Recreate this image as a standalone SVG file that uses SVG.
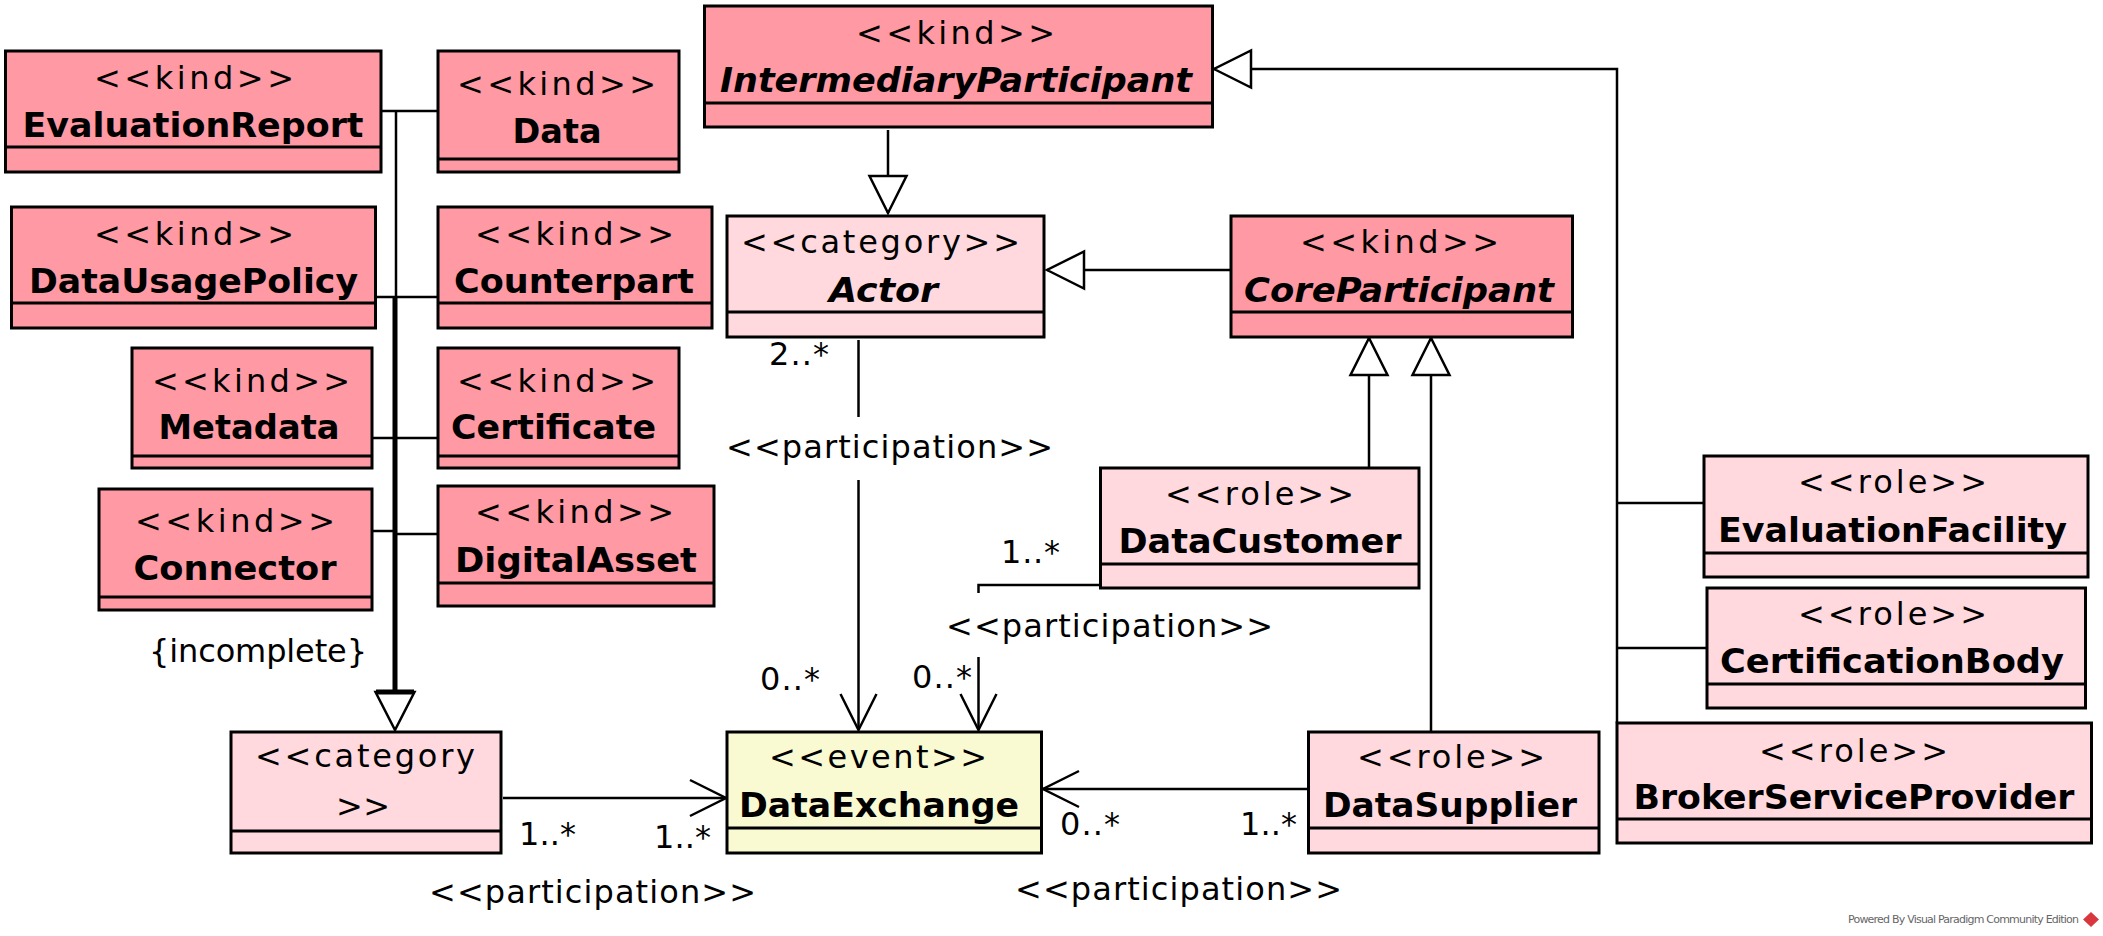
<svg xmlns="http://www.w3.org/2000/svg" width="2103" height="936" viewBox="0 0 2103 936">
<style>
.box{stroke:#000;stroke-width:3}
.kind{fill:#FF99A3}
.role{fill:#FFD9DE}
.event{fill:#FAFAD2}
.dv{stroke:#000;stroke-width:3}
text{font-family:"DejaVu Sans","Liberation Sans",sans-serif;fill:#000}
.st{font-size:32px;text-anchor:middle}
.nm{font-size:34px;font-weight:bold;text-anchor:middle}
.it{font-style:italic}
.lb{font-size:32px}
.c{stroke:#000;stroke-width:2.5;fill:none}
.thick{stroke:#000;stroke-width:5;fill:none}
.tri{fill:#fff;stroke:#000;stroke-width:2.5}
.pw{font-size:11px;fill:#666}
</style>
<defs>
<marker id="open" markerUnits="userSpaceOnUse" viewBox="-40 -22 44 44" markerWidth="44" markerHeight="44" refX="0" refY="0" orient="auto" overflow="visible">
<path d="M-36,-18 L0,0 L-36,18" fill="none" stroke="#000" stroke-width="2.5"/>
</marker>
<marker id="gen" markerUnits="userSpaceOnUse" viewBox="-40 -22 44 44" markerWidth="44" markerHeight="44" refX="0" refY="0" orient="auto" overflow="visible">
<path d="M0,0 L-37,-18.5 L-37,18.5 Z" class="tri"/>
</marker>
</defs>
<rect width="2103" height="936" fill="#fff"/>

<g id="connectors">
<!-- generalization set {incomplete} -->
<line class="c" x1="381" y1="111" x2="438" y2="111"/>
<line class="c" x1="376" y1="297" x2="438" y2="297"/>
<line class="c" x1="372" y1="438" x2="438" y2="438"/>
<line class="c" x1="372" y1="531" x2="396" y2="531"/>
<line class="c" x1="395" y1="534" x2="438" y2="534"/>
<line class="c" x1="396" y1="111" x2="396" y2="297"/>
<line class="thick" x1="395" y1="297" x2="395" y2="692"/>
<path class="tri" d="M375.5,692 L414.5,692 L395,730 Z"/>
<line class="thick" x1="376" y1="692" x2="414" y2="692"/>
<text class="lb" x="149" y="662" textLength="218">{incomplete}</text>

<!-- IntermediaryParticipant -> Actor -->
<line class="c" x1="888" y1="130" x2="888" y2="213" marker-end="url(#gen)"/>
<!-- CoreParticipant -> Actor -->
<line class="c" x1="1231" y1="270" x2="1047" y2="270" marker-end="url(#gen)"/>
<!-- DataCustomer -> CoreParticipant -->
<line class="c" x1="1369" y1="468" x2="1369" y2="338" marker-end="url(#gen)"/>
<!-- DataSupplier -> CoreParticipant -->
<line class="c" x1="1431" y1="732" x2="1431" y2="338" marker-end="url(#gen)"/>
<!-- roles -> IntermediaryParticipant -->
<path class="c" d="M1617,723 L1617,69 L1214,69" marker-end="url(#gen)"/>
<line class="c" x1="1617" y1="503" x2="1704" y2="503"/>
<line class="c" x1="1617" y1="648" x2="1707" y2="648"/>

<!-- Actor -> DataExchange participation -->
<line class="c" x1="858.5" y1="340" x2="858.5" y2="417"/>
<line class="c" x1="858.5" y1="480" x2="858.5" y2="730" marker-end="url(#open)"/>
<text class="lb" x="769" y="365" textLength="60">2..*</text>
<text class="lb" x="726" y="458" textLength="327">&lt;&lt;participation&gt;&gt;</text>
<text class="lb" x="760" y="690" textLength="60">0..*</text>

<!-- DataCustomer -> DataExchange participation -->
<polyline class="c" points="1100,585 978.5,585 978.5,593"/>
<line class="c" x1="978.5" y1="657" x2="978.5" y2="730" marker-end="url(#open)"/>
<text class="lb" x="1001" y="563" textLength="59">1..*</text>
<text class="lb" x="946" y="637" textLength="327">&lt;&lt;participation&gt;&gt;</text>
<text class="lb" x="912" y="688" textLength="60">0..*</text>

<!-- DataSupplier -> DataExchange participation -->
<line class="c" x1="1307" y1="789" x2="1043" y2="789" marker-end="url(#open)"/>
<text class="lb" x="1060" y="835" textLength="60">0..*</text>
<text class="lb" x="1240" y="835" textLength="57">1..*</text>
<text class="lb" x="1015" y="900" textLength="327">&lt;&lt;participation&gt;&gt;</text>

<!-- category -> DataExchange participation -->
<line class="c" x1="503" y1="798" x2="726" y2="798" marker-end="url(#open)"/>
<text class="lb" x="519" y="845" textLength="57">1..*</text>
<text class="lb" x="654" y="848" textLength="57">1..*</text>
<text class="lb" x="429" y="903" textLength="327">&lt;&lt;participation&gt;&gt;</text>
</g>

<g id="EvaluationReport">
<rect class="box kind" x="5.5" y="51" width="375.5" height="121"/>
<line class="dv" x1="5.5" y1="147" x2="381" y2="147"/>
<text class="st" x="194" y="89" textLength="200">&lt;&lt;kind&gt;&gt;</text>
<text class="nm" x="193" y="137" textLength="341" lengthAdjust="spacingAndGlyphs">EvaluationReport</text>
</g>
<g id="Data">
<rect class="box kind" x="438" y="51" width="241" height="121"/>
<line class="dv" x1="438" y1="159" x2="679" y2="159"/>
<text class="st" x="556.5" y="95" textLength="199">&lt;&lt;kind&gt;&gt;</text>
<text class="nm" x="557" y="143" textLength="89" lengthAdjust="spacingAndGlyphs">Data</text>
</g>
<g id="DataUsagePolicy">
<rect class="box kind" x="11.5" y="207" width="364" height="121"/>
<line class="dv" x1="11.5" y1="303" x2="375.5" y2="303"/>
<text class="st" x="194" y="245" textLength="200">&lt;&lt;kind&gt;&gt;</text>
<text class="nm" x="193.5" y="293" textLength="329" lengthAdjust="spacingAndGlyphs">DataUsagePolicy</text>
</g>
<g id="Counterpart">
<rect class="box kind" x="438" y="207" width="274" height="121"/>
<line class="dv" x1="438" y1="303" x2="712" y2="303"/>
<text class="st" x="574.5" y="245" textLength="199">&lt;&lt;kind&gt;&gt;</text>
<text class="nm" x="574" y="293" textLength="240" lengthAdjust="spacingAndGlyphs">Counterpart</text>
</g>
<g id="Metadata">
<rect class="box kind" x="132" y="348" width="240" height="120"/>
<line class="dv" x1="132" y1="456" x2="372" y2="456"/>
<text class="st" x="251" y="392" textLength="198">&lt;&lt;kind&gt;&gt;</text>
<text class="nm" x="249" y="439" textLength="181" lengthAdjust="spacingAndGlyphs">Metadata</text>
</g>
<g id="Certificate">
<rect class="box kind" x="438" y="348" width="241" height="120"/>
<line class="dv" x1="438" y1="456" x2="679" y2="456"/>
<text class="st" x="556.5" y="392" textLength="199">&lt;&lt;kind&gt;&gt;</text>
<text class="nm" x="553.5" y="439" textLength="205" lengthAdjust="spacingAndGlyphs">Certificate</text>
</g>
<g id="Connector">
<rect class="box kind" x="99" y="489" width="273" height="121"/>
<line class="dv" x1="99" y1="597" x2="372" y2="597"/>
<text class="st" x="235" y="532" textLength="200">&lt;&lt;kind&gt;&gt;</text>
<text class="nm" x="235" y="580" textLength="203" lengthAdjust="spacingAndGlyphs">Connector</text>
</g>
<g id="DigitalAsset">
<rect class="box kind" x="438" y="486" width="276" height="120"/>
<line class="dv" x1="438" y1="583" x2="714" y2="583"/>
<text class="st" x="574.5" y="523" textLength="199">&lt;&lt;kind&gt;&gt;</text>
<text class="nm" x="576" y="572" textLength="242" lengthAdjust="spacingAndGlyphs">DigitalAsset</text>
</g>
<g id="Category">
<rect class="box role" x="231" y="732" width="270" height="121"/>
<line class="dv" x1="231" y1="831" x2="501" y2="831"/>
<text class="st" x="365" y="767" textLength="220">&lt;&lt;category</text>
<text class="st" x="363" y="817" textLength="54">&gt;&gt;</text>
</g>
<g id="IntermediaryParticipant">
<rect class="box kind" x="704.5" y="6" width="508" height="121"/>
<line class="dv" x1="704.5" y1="103" x2="1212.5" y2="103"/>
<text class="st" x="955.5" y="44" textLength="199">&lt;&lt;kind&gt;&gt;</text>
<text class="nm it" x="956" y="92" textLength="472" lengthAdjust="spacingAndGlyphs">IntermediaryParticipant</text>
</g>
<g id="Actor">
<rect class="box role" x="727" y="216" width="317" height="121"/>
<line class="dv" x1="727" y1="312" x2="1044" y2="312"/>
<text class="st" x="880.5" y="253" textLength="279">&lt;&lt;category&gt;&gt;</text>
<text class="nm it" x="883.5" y="302" textLength="109" lengthAdjust="spacingAndGlyphs">Actor</text>
</g>
<g id="CoreParticipant">
<rect class="box kind" x="1231" y="216" width="341.5" height="121"/>
<line class="dv" x1="1231" y1="312" x2="1572.5" y2="312"/>
<text class="st" x="1399.5" y="253" textLength="199">&lt;&lt;kind&gt;&gt;</text>
<text class="nm it" x="1399" y="302" textLength="310" lengthAdjust="spacingAndGlyphs">CoreParticipant</text>
</g>
<g id="DataCustomer">
<rect class="box role" x="1100.5" y="468" width="318.5" height="120"/>
<line class="dv" x1="1100.5" y1="564" x2="1419" y2="564"/>
<text class="st" x="1259.5" y="505" textLength="189">&lt;&lt;role&gt;&gt;</text>
<text class="nm" x="1260" y="553" textLength="283" lengthAdjust="spacingAndGlyphs">DataCustomer</text>
</g>
<g id="DataExchange">
<rect class="box event" x="727" y="732" width="314.5" height="121"/>
<line class="dv" x1="727" y1="828" x2="1041.5" y2="828"/>
<text class="st" x="878" y="768" textLength="218">&lt;&lt;event&gt;&gt;</text>
<text class="nm" x="879" y="817" textLength="280" lengthAdjust="spacingAndGlyphs">DataExchange</text>
</g>
<g id="DataSupplier">
<rect class="box role" x="1308.5" y="732" width="290.5" height="121"/>
<line class="dv" x1="1308.5" y1="828" x2="1599" y2="828"/>
<text class="st" x="1451" y="768" textLength="188">&lt;&lt;role&gt;&gt;</text>
<text class="nm" x="1450" y="817" textLength="254" lengthAdjust="spacingAndGlyphs">DataSupplier</text>
</g>
<g id="EvaluationFacility">
<rect class="box role" x="1704" y="456" width="384" height="121"/>
<line class="dv" x1="1704" y1="553" x2="2088" y2="553"/>
<text class="st" x="1892.5" y="493" textLength="189">&lt;&lt;role&gt;&gt;</text>
<text class="nm" x="1892.5" y="542" textLength="349" lengthAdjust="spacingAndGlyphs">EvaluationFacility</text>
</g>
<g id="CertificationBody">
<rect class="box role" x="1707" y="588" width="378.5" height="120"/>
<line class="dv" x1="1707" y1="684" x2="2085.5" y2="684"/>
<text class="st" x="1892.5" y="625" textLength="189">&lt;&lt;role&gt;&gt;</text>
<text class="nm" x="1892" y="673" textLength="344" lengthAdjust="spacingAndGlyphs">CertificationBody</text>
</g>
<g id="BrokerServiceProvider">
<rect class="box role" x="1617" y="723" width="474.5" height="120"/>
<line class="dv" x1="1617" y1="819" x2="2091.5" y2="819"/>
<text class="st" x="1853.5" y="762" textLength="189">&lt;&lt;role&gt;&gt;</text>
<text class="nm" x="1854" y="809" textLength="441" lengthAdjust="spacingAndGlyphs">BrokerServiceProvider</text>
</g>

<g id="footer">
<text class="pw" x="1848" y="923" textLength="231">Powered By Visual Paradigm Community Edition</text>
<path d="M2091,912 L2099,919.5 L2091,927 L2083,919.5 Z" fill="#D9363E"/>
</g>
</svg>
